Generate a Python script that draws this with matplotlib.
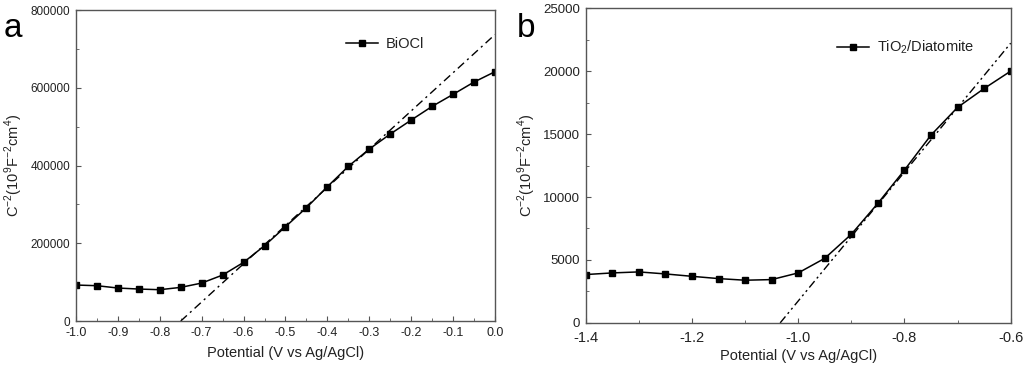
import matplotlib
matplotlib.use("Agg")
import matplotlib.pyplot as plt
from matplotlib.ticker import MultipleLocator
import numpy as np

plt.rcParams['font.family'] = ['Liberation Sans', 'DejaVu Sans']
plt.rcParams['mathtext.fontset'] = 'custom'
plt.rcParams['mathtext.rm'] = 'Liberation Sans'

# Panel a data
x_a = [-1.0, -0.95, -0.9, -0.85, -0.8, -0.75, -0.7, -0.65, -0.6, -0.55, -0.5,
       -0.45, -0.4, -0.35, -0.3, -0.25, -0.2, -0.15, -0.1, -0.05, 0.0]
y_a = [92600, 90900, 84900, 82300, 80600, 86600, 97700, 118300, 150900, 193800, 242700,
       291500, 345600, 397900, 442400, 481000, 517000, 552200, 583100, 614800, 641400]
fit_a_x = [-0.75, 0.0]
fit_a_y = [0, 737000]

# Panel b data
x_b = [-1.4, -1.35, -1.3, -1.25, -1.2, -1.15, -1.1, -1.05, -1.0, -0.95, -0.9,
       -0.85, -0.8, -0.75, -0.7, -0.65, -0.6]
y_b = [3840, 3970, 4050, 3890, 3700, 3520, 3390, 3440, 3970, 5130, 7040,
       9500, 12140, 14920, 17120, 18620, 20000]
fit_b_x = [-1.034, -0.6]
fit_b_y = [0, 22220]

text_c = '#222222'
spine_c = '#555555'
ylab = r'C$^{\mathrm{-2}}$(10$^{\mathrm{9}}$F$^{\mathrm{-2}}$cm$^{\mathrm{4}}$)'

fig = plt.figure(figsize=(10.24, 3.72), dpi=100)
ax1 = fig.add_axes([0.0742, 0.137, 0.4092, 0.836])
ax2 = fig.add_axes([0.572, 0.132, 0.415, 0.846])

for ax in (ax1, ax2):
    for s in ax.spines.values():
        s.set_color(spine_c)
        s.set_linewidth(1.0)
    ax.tick_params(which='both', direction='in', top=False, right=False,
                   color=spine_c, labelcolor=text_c, pad=3)
    ax.tick_params(which='major', length=3.5)
    ax.tick_params(which='minor', length=2)
ax1.tick_params(axis='x', labelsize=9, pad=4)
ax1.tick_params(axis='y', labelsize=8.5, pad=4)
ax2.tick_params(axis='x', labelsize=10.5, pad=6)
ax2.tick_params(axis='y', labelsize=9.5, pad=4)

# Panel a
ax1.plot(x_a, y_a, '-', color='black', lw=1.1, marker='s', ms=4.5, label='BiOCl')
ax1.plot(fit_a_x, fit_a_y, color='black', lw=1.0, dashes=[6, 3, 1.5, 3])
ax1.set_xlim(-1.0, 0.0)
ax1.set_ylim(0, 800000)
ax1.xaxis.set_major_locator(MultipleLocator(0.1))
ax1.xaxis.set_minor_locator(MultipleLocator(0.05))
ax1.yaxis.set_major_locator(MultipleLocator(200000))
ax1.yaxis.set_minor_locator(MultipleLocator(100000))
ax1.set_xticklabels([f'{v:.1f}' for v in ax1.get_xticks()])
ax1.set_xlabel('Potential (V vs Ag/AgCl)', fontsize=10.5, color=text_c, labelpad=5)
ax1.set_ylabel(ylab, fontsize=10.5, color=text_c, labelpad=4)
leg = ax1.legend(loc='upper left', bbox_to_anchor=(0.613, 0.955), frameon=False,
                 fontsize=10.5, handlelength=2.2, handletextpad=0.5)
for t in leg.get_texts():
    t.set_color(text_c)
fig.text(0.004, 0.9, 'a', fontsize=24, color='black')

# Panel b
ax2.plot(x_b, y_b, '-', color='black', lw=1.1, marker='s', ms=4.5, label=r'TiO$_{\mathrm{2}}$/Diatomite')
ax2.plot(fit_b_x, fit_b_y, color='black', lw=1.0, dashes=[6, 2.5, 1.5, 2.5, 1.5, 2.5])
ax2.set_xlim(-1.4, -0.6)
ax2.set_ylim(0, 25000)
ax2.xaxis.set_major_locator(MultipleLocator(0.2))
ax2.xaxis.set_minor_locator(MultipleLocator(0.1))
ax2.yaxis.set_major_locator(MultipleLocator(5000))
ax2.yaxis.set_minor_locator(MultipleLocator(2500))
ax2.set_xticklabels([f'{v:.1f}' for v in ax2.get_xticks()])
ax2.set_xlabel('Potential (V vs Ag/AgCl)', fontsize=10.5, color=text_c, labelpad=3)
ax2.set_ylabel(ylab, fontsize=10.5, color=text_c, labelpad=4)
leg = ax2.legend(loc='upper left', bbox_to_anchor=(0.561, 0.945), frameon=False,
                 fontsize=10.5, handlelength=2.2, handletextpad=0.5)
for t in leg.get_texts():
    t.set_color(text_c)
fig.text(0.505, 0.9, 'b', fontsize=24, color='black')

fig.savefig('out.png', dpi=100)
